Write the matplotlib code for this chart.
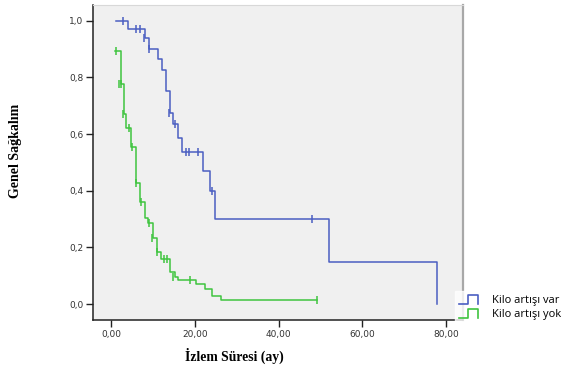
import numpy as np
import matplotlib.pyplot as plt
from matplotlib.legend_handler import HandlerBase
from matplotlib.lines import Line2D

# Kaplan-Meier steps, group "Kilo artışı var"
var_time = [1.2, 4.0, 8.0, 9.0, 11.2, 12.0, 13.0, 14.0, 14.8, 16.0, 17.0, 22.0, 23.6, 24.9, 52.0, 78.0]
var_surv = [1.0, 0.97, 0.938, 0.90, 0.863, 0.826, 0.753, 0.675, 0.634, 0.587, 0.535, 0.47, 0.40, 0.30, 0.15, 0.0]
var_cens_time = [2.8, 6.0, 6.8, 7.8, 9.0, 13.8, 15.2, 17.9, 18.6, 20.8, 24.0, 47.9]
var_cens_surv = [1.0, 0.97, 0.97, 0.938, 0.90, 0.675, 0.634, 0.535, 0.535, 0.535, 0.40, 0.30]

# group "Kilo artışı yok"
yok_time = [0.8, 2.3, 3.0, 3.6, 4.8, 6.0, 6.8, 8.0, 8.8, 10.0, 11.0, 11.8, 14.0, 15.2, 16.0, 20.2, 22.4, 24.0, 26.1, 49.1]
yok_surv = [0.894, 0.777, 0.67, 0.62, 0.555, 0.426, 0.361, 0.302, 0.287, 0.232, 0.185, 0.158, 0.114, 0.094, 0.085,
            0.07, 0.055, 0.028, 0.014, 0.014]
yok_cens_time = [1.1, 1.9, 2.4, 2.8, 4.2, 5.0, 6.0, 7.1, 9.1, 9.7, 11.0, 12.6, 13.2, 14.8, 18.9, 49.1]
yok_cens_surv = [0.894, 0.777, 0.777, 0.67, 0.62, 0.555, 0.426, 0.361, 0.287, 0.232, 0.185, 0.158, 0.158, 0.094,
                 0.085, 0.014]

labels = ["Kilo artışı var", "Kilo artışı yok"]
x_ticks = [0, 20, 40, 60, 80]
y_ticks = [0.0, 0.2, 0.4, 0.6, 0.8, 1.0]

BLUE = "#4b5fc2"
GREEN = "#3fc43f"


class StepHandler(HandlerBase):
    def create_artists(self, legend, orig_handle, xdescent, ydescent, width, height, fontsize, trans):
        x = np.array([0.0, 0.4, 0.4, 0.85, 0.85]) * width - xdescent
        y = np.array([-0.05, -0.05, 1.0, 1.0, -0.05]) * height * 1.1 - ydescent
        ln = Line2D(x, y, color=orig_handle.get_color(), lw=1.2, transform=trans)
        return [ln]


def main():
    fig = plt.figure(figsize=(5.66, 3.72), dpi=100)
    ax = fig.add_axes([93 / 566, 52 / 372, 370 / 566, 315 / 372])
    ax.set_facecolor("#f0f0f0")

    h1, = ax.plot(var_time, var_surv, drawstyle="steps-post", color=BLUE, lw=1.1)
    ax.plot(var_cens_time, var_cens_surv, ls="none", marker="|", ms=6, mew=1.1, color=BLUE)
    h2, = ax.plot(yok_time, yok_surv, drawstyle="steps-post", color=GREEN, lw=1.1)
    ax.plot(yok_cens_time, yok_cens_surv, ls="none", marker="|", ms=6, mew=1.1, color=GREEN)

    ax.set_xlim(-4.4, 84.1)
    ax.set_ylim(-0.056, 1.055)
    ax.set_xticks(x_ticks)
    ax.set_xticklabels([f"{v:.2f}".replace(".", ",") for v in x_ticks])
    ax.set_yticks(y_ticks)
    ax.set_yticklabels([f"{v:.1f}".replace(".", ",") for v in y_ticks])
    ax.tick_params(labelsize=6.5, labelcolor="#333333", length=5, width=1, color="#222222", pad=2)
    for s in ["left", "bottom"]:
        ax.spines[s].set_color("#222222")
        ax.spines[s].set_linewidth(1.1)
    ax.spines["top"].set_color("#d8d8d8")
    ax.spines["right"].set_color("#a8a8a8")
    ax.spines["right"].set_linewidth(1.6)

    fig.text(16 / 566, 1 - 151 / 372, "Genel Sağkalım", rotation=90, ha="center", va="center",
             family="Liberation Serif", fontweight="bold", fontsize=10)
    fig.text(234 / 566, 1 - 356 / 372, "İzlem Süresi (ay)", ha="center", va="center",
             family="Liberation Serif", fontweight="bold", fontsize=9.8)

    leg = fig.legend([h1, h2], labels, loc="lower left", bbox_to_anchor=(455 / 566, 48 / 372),
                     handler_map={Line2D: StepHandler()}, frameon=True, fancybox=False,
                     prop={"family": "Open Sans", "size": 8}, handlelength=2.0, handletextpad=1.0,
                     labelspacing=0.25, borderpad=0.35, borderaxespad=0)
    leg.get_frame().set_facecolor("white")
    leg.get_frame().set_edgecolor("white")

    fig.savefig("out.png", dpi=100)


if __name__ == "__main__":
    main()
